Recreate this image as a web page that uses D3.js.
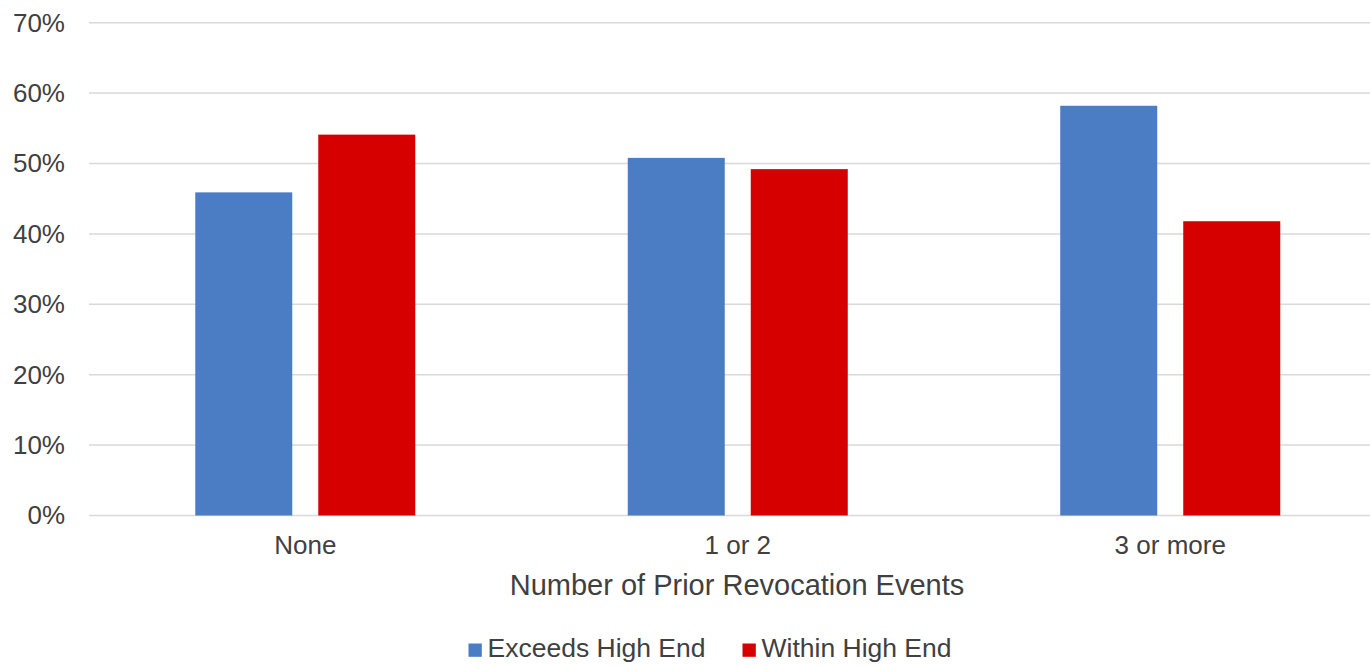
<!DOCTYPE html>
<html>
<head>
<meta charset="utf-8">
<script src="https://cdn.jsdelivr.net/npm/d3@7"></script>
<style>
  html, body { margin: 0; padding: 0; background: #fff; }
  svg { display: block; font-family: "Liberation Sans", Arial, sans-serif; }
</style>
</head>
<body>
<svg id="chart" width="1370" height="666"></svg>
<script>
// Share of cases by number of prior revocation events
const categories = ["None", "1 or 2", "3 or more"];
const seriesNames = ["Exceeds High End", "Within High End"];
const exceedsValues = [0.459, 0.508, 0.582];
const withinValues = [0.541, 0.492, 0.418];
const yTicks = [0, 0.1, 0.2, 0.3, 0.4, 0.5, 0.6, 0.7];
const seriesColors = ["#4a7dc4", "#d60000"];
const axisTitle = "Number of Prior Revocation Events";

const svg = d3.select("#chart");
const textColor = "#404040";

const x0 = d3.scaleBand()
  .domain(categories)
  .range([89, 1386.5])
  .paddingInner(0.4913)
  .paddingOuter(0.2457);

const x1 = d3.scaleBand()
  .domain(seriesNames)
  .range([0, x0.bandwidth()])
  .paddingInner(0.2114)
  .paddingOuter(0);

const y = d3.scaleLinear().domain([0, 0.7]).range([515.5, 22.7]);

const color = d3.scaleOrdinal().domain(seriesNames).range(seriesColors);

// Horizontal gridlines
svg.append("g")
  .selectAll("line")
  .data(yTicks)
  .join("line")
  .attr("x1", 89)
  .attr("x2", 1386.5)
  .attr("y1", d => y(d))
  .attr("y2", d => y(d))
  .attr("stroke", "#d9d9d9")
  .attr("stroke-width", 1.5);

// Y axis labels
const yAxis = d3.axisLeft(y)
  .tickValues(yTicks)
  .tickFormat(d3.format(".0%"))
  .tickSize(0)
  .tickPadding(0);

const yg = svg.append("g")
  .attr("transform", "translate(65,0)")
  .call(yAxis);
yg.select(".domain").remove();
yg.selectAll("text")
  .attr("fill", textColor)
  .style("font-size", "26px")
  .style("font-family", "'Liberation Sans', Arial, sans-serif");

// Bars
const rows = categories.map((c, i) => ({
  category: c,
  values: [
    { key: seriesNames[0], value: exceedsValues[i] },
    { key: seriesNames[1], value: withinValues[i] }
  ]
}));

svg.append("g")
  .selectAll("g")
  .data(rows)
  .join("g")
  .attr("transform", d => `translate(${x0(d.category)},0)`)
  .selectAll("rect")
  .data(d => d.values)
  .join("rect")
  .attr("x", d => x1(d.key))
  .attr("width", x1.bandwidth())
  .attr("y", d => y(d.value))
  .attr("height", d => y(0) - y(d.value))
  .attr("fill", d => color(d.key));

// X axis category labels
const xAxis = d3.axisBottom(x0).tickSize(0).tickPadding(0);
const xg = svg.append("g")
  .attr("transform", "translate(0,536)")
  .call(xAxis);
xg.select(".domain").remove();
xg.selectAll("text")
  .attr("fill", textColor)
  .attr("dy", "0.71em")
  .style("font-size", "26px")
  .style("font-family", "'Liberation Sans', Arial, sans-serif");

// Axis title
svg.append("text")
  .attr("x", 737)
  .attr("y", 595)
  .attr("text-anchor", "middle")
  .attr("fill", textColor)
  .style("font-size", "29px")
  .text(axisTitle);

// Legend
const legendItems = [
  { name: seriesNames[0], x: 468.5 },
  { name: seriesNames[1], x: 742.5 }
];
const lg = svg.append("g")
  .selectAll("g")
  .data(legendItems)
  .join("g")
  .attr("transform", d => `translate(${d.x},0)`);
lg.append("rect")
  .attr("x", 0)
  .attr("y", 643.5)
  .attr("width", 13.3)
  .attr("height", 13.3)
  .attr("fill", d => color(d.name));
lg.append("text")
  .attr("x", 19)
  .attr("y", 657)
  .attr("fill", textColor)
  .style("font-size", "26.5px")
  .text(d => d.name);
</script>
</body>
</html>
